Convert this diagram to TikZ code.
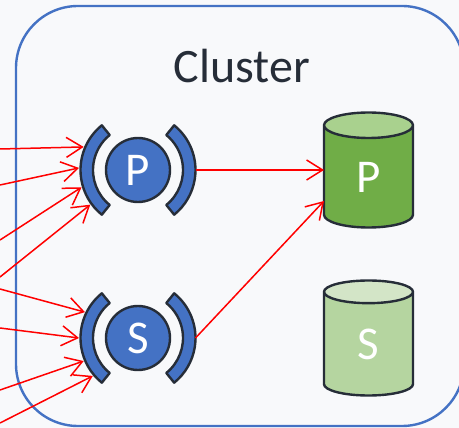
\documentclass[tikz,border=0pt]{standalone}
\usepackage{fontspec}
\setmainfont{Carlito}
\usetikzlibrary{shapes.geometric, positioning, calc, arrows.meta}
\definecolor{paper}{HTML}{F8F9FB}
\definecolor{edge}{HTML}{262D38}
\definecolor{blue}{HTML}{4472C4}
\definecolor{primbody}{HTML}{70AD47}
\definecolor{primtop}{HTML}{A9D18E}
\definecolor{secbody}{HTML}{B5D5A0}
\definecolor{sectop}{HTML}{D3E5C7}
\tikzset{%
  cluster/.style = {draw=blue, line width=2.4pt, rounded corners=62pt},
  title/.style = {font=\fontsize{48}{48}\selectfont, text=edge},
  mouth/.style = {circle, draw=edge, fill=blue, line width=2.4pt, minimum size=64pt, inner sep=0pt,
                  text=white, font=\fontsize{47}{47}\selectfont},
  band/.style = {draw=edge, fill=blue, line width=2.4pt, line join=round},
  db/.style = {cylinder, shape border rotate=90, aspect=1.05, draw=edge, line width=2.4pt,
               minimum width=89pt, minimum height=115pt, inner sep=0pt, cylinder uses custom fill,
               anchor=shape center, text=white, font=\fontsize{47}{47}\selectfont},
  feed/.style = {draw=red, line width=1.5pt, -{Straight Barb[length=16pt,width=20pt,line width=1.5pt]}}
  }

\begin{document}
\begin{tikzpicture}[x=1pt,y=-1pt]
  \fill[paper] (0,0) rectangle (459,428);
  \useasboundingbox (0,0) rectangle (459,428);
  \clip (0,0) rectangle (459,428);

  \draw[cluster] (16,6) rectangle (464,426);
  \node (title) [title] at (242,66) {Cluster};

  \node (P) [mouth] at (138,170) {P};
  \node (S) [mouth] at (138,338) {S};
  \foreach \n in {P,S}
  {
    \draw[band] ($(\n)+(129:57.5pt)$) arc[start angle=129,end angle=231,radius=57.5pt]
      -- ($(\n)+(231:45pt)$) arc[start angle=231,end angle=129,radius=45pt] -- cycle;
    \draw[band] ($(\n)+(51:57.5pt)$) arc[start angle=51,end angle=-51,radius=57.5pt]
      -- ($(\n)+(-51:45pt)$) arc[start angle=-51,end angle=51,radius=45pt] -- cycle;
    \coordinate (\n out) at ($(\n)+(0:57.5pt)$);
  }

  \node (dbP) [db, cylinder body fill=primbody, cylinder end fill=primtop] at (368.5,170) {P};
  \node (dbS) [db, cylinder body fill=secbody, cylinder end fill=sectop] at (368.5,338) {S};

  % clients on the left
  \foreach \n/\i/\y/\ang in {P/1/149/157, P/2/185/178, P/3/240/197, P/4/277/216,
                             S/1/289/154, S/2/328/180, S/3/390/203, S/4/423/220}
  {
    \coordinate (src\n\i) at (0,\y);
    \coordinate (tip\n\i) at ($(\n)+(\ang:59pt)$);
    \draw[feed] (src\n\i) -- (tip\n\i);
  }

  \coordinate (dbPa) at ($(dbP.shape center)+(-44.5,0)$);
  \coordinate (dbPb) at ($(dbP.shape center)+(-44.5,31)$);
  \draw[feed] (Pout) -- (dbPa);
  \draw[feed] (Sout) -- (dbPb);
\end{tikzpicture}
\end{document}
